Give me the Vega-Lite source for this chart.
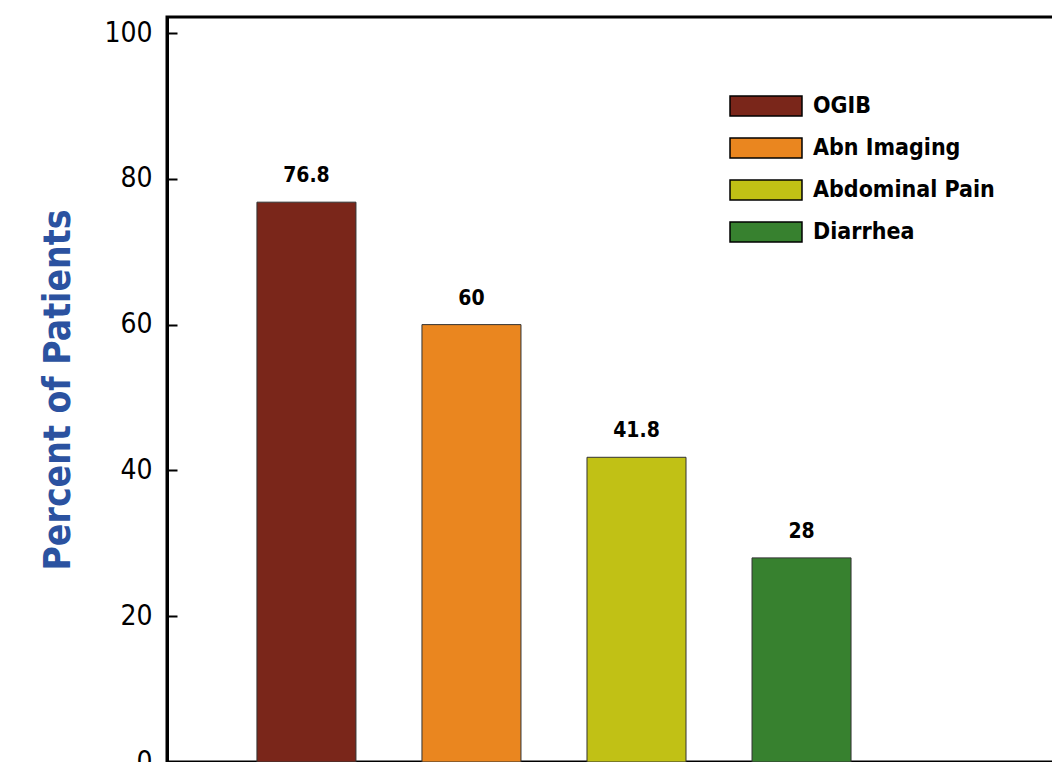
{
  "$schema": "https://vega.github.io/schema/vega-lite/v6.json",
  "autosize": {"type": "none"},
  "padding": {"left": 167, "top": 17, "right": 0, "bottom": 0},
  "width": 939,
  "height": 745,
  "background": "white",
  "config": {
    "view": {"stroke": "black", "strokeWidth": 3},
    "font": "DejaVu Sans Condensed"
  },
  "data": {
    "values": [
      {"category": "OGIB", "percent": 76.8},
      {"category": "Abn Imaging", "percent": 60},
      {"category": "Abdominal Pain", "percent": 41.8},
      {"category": "Diarrhea", "percent": 28}
    ]
  },
  "encoding": {
    "x": {
      "field": "category",
      "type": "nominal",
      "sort": null,
      "scale": {"domain": ["OGIB", "Abn Imaging", "Abdominal Pain", "Diarrhea", " "], "paddingInner": 0.4, "paddingOuter": 0.545},
      "axis": null
    },
    "y": {
      "field": "percent",
      "type": "quantitative",
      "scale": {"domain": [0, 102.2], "nice": false, "zero": true},
      "axis": {
        "values": [0, 20, 40, 60, 80, 100],
        "title": "Percent of Patients",
        "titleFont": "DejaVu Sans Condensed",
        "titleFontSize": 37,
        "titleFontWeight": "bold",
        "titleColor": "#2b52a0",
        "titlePadding": 26,
        "labelFont": "DejaVu Sans Condensed",
        "labelFontSize": 28,
        "labelColor": "black",
        "labelPadding": 25,
        "tickSize": -10,
        "tickWidth": 2,
        "tickColor": "black",
        "domainColor": "black",
        "domainWidth": 3,
        "grid": false
      }
    }
  },
  "layer": [
    {
      "mark": {"type": "bar", "stroke": "#333333", "strokeWidth": 1},
      "encoding": {
        "color": {
          "field": "category",
          "type": "nominal",
          "scale": {
            "domain": ["OGIB", "Abn Imaging", "Abdominal Pain", "Diarrhea"],
            "range": ["#7a261a", "#ea861f", "#c1c115", "#37812f"]
          },
          "legend": {
            "title": null,
            "orient": "none",
            "legendX": 577,
            "legendY": 67,
            "symbolType": "M-1.714,-0.476H1.714V0.476H-1.714Z",
            "symbolSize": 1764,
            "symbolStrokeColor": "black",
            "symbolStrokeWidth": 1.5,
            "symbolOpacity": 1,
            "labelFont": "DejaVu Sans Condensed",
            "labelFontSize": 23,
            "labelFontWeight": "bold",
            "labelColor": "black",
            "labelOffset": 25,
            "rowPadding": 7,
            "labelLimit": 400
          }
        }
      }
    },
    {
      "mark": {"type": "text", "font": "DejaVu Sans Condensed", "fontSize": 21, "fontWeight": "bold", "color": "black", "baseline": "alphabetic", "dy": -20},
      "encoding": {
        "text": {"field": "percent", "type": "quantitative"}
      }
    }
  ]
}
